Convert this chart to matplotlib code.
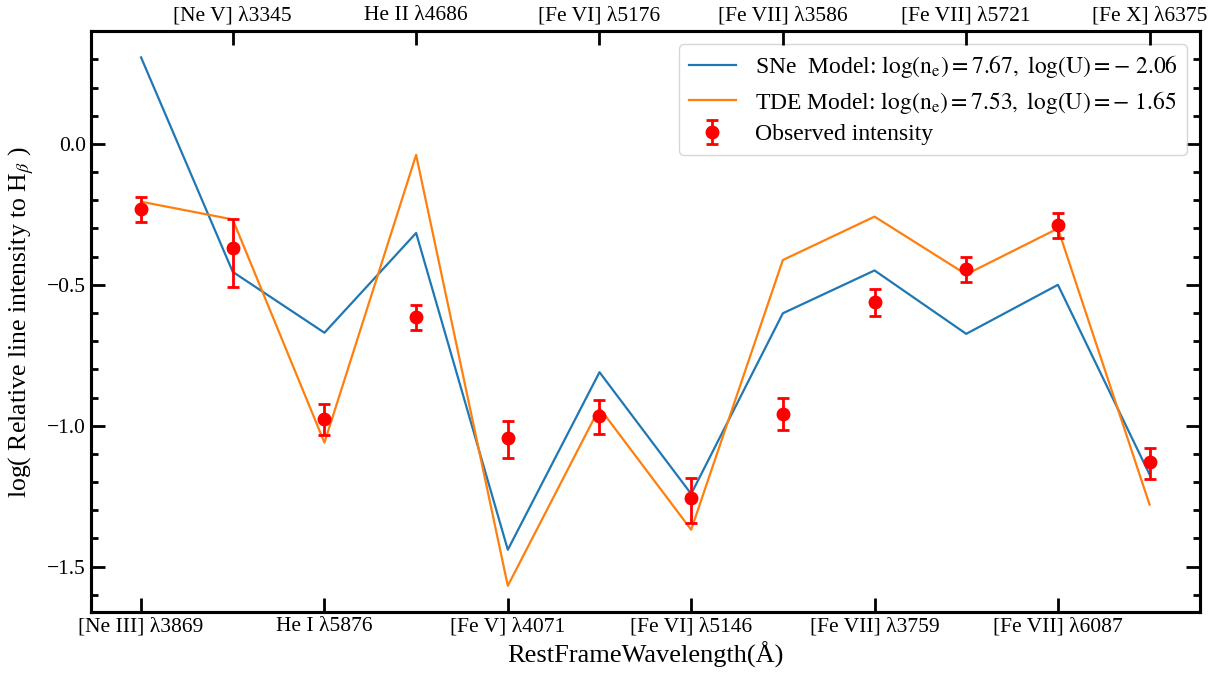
import numpy as np
import matplotlib.pyplot as plt
from matplotlib.ticker import MultipleLocator

plt.rcParams.update({
    "font.family": "serif",
    "font.serif": ["Liberation Serif", "DejaVu Serif"],
    "mathtext.fontset": "stix",
    "axes.linewidth": 2.2,
})

# emission lines, alternating between bottom and top axis
bottom_labels = ["[Ne III] λ3869", "He I λ5876", "[Fe V] λ4071",
                 "[Fe VI] λ5146", "[Fe VII] λ3759", "[Fe VII] λ6087"]
top_labels = ["[Ne V] λ3345", "He II λ4686", "[Fe VI] λ5176",
              "[Fe VII] λ3586", "[Fe VII] λ5721", "[Fe X] λ6375"]

sne_model = [0.307, -0.454, -0.670, -0.316, -1.440, -0.810,
             -1.242, -0.601, -0.449, -0.674, -0.500, -1.173]
tde_model = [-0.205, -0.268, -1.060, -0.039, -1.568, -0.937,
             -1.369, -0.412, -0.258, -0.463, -0.300, -1.280]
observed = [-0.230, -0.369, -0.977, -0.615, -1.043, -0.964,
            -1.258, -0.957, -0.560, -0.443, -0.288, -1.130]
err_low = [0.046, 0.138, 0.055, 0.045, 0.071, 0.065,
           0.087, 0.058, 0.049, 0.046, 0.045, 0.060]
err_high = [0.043, 0.104, 0.053, 0.044, 0.061, 0.055,
            0.073, 0.054, 0.044, 0.043, 0.042, 0.051]

x = np.arange(len(observed))

fig = plt.figure(figsize=(12.25, 6.81), dpi=100)
ax = fig.add_axes([0.074, 0.101, 0.9056, 0.8535])

ax.plot(x, sne_model, color="#1f77b4", lw=1.6,
        label=r"SNe  Model: $\mathrm{log(n_e) = 7.67,\ log(U) = -\ 2.06}$")
ax.plot(x, tde_model, color="#ff7f0e", lw=1.6,
        label=r"TDE Model: $\mathrm{log(n_e) = 7.53,\ log(U) = -\ 1.65}$")
ax.errorbar(x, observed, yerr=[err_low, err_high], fmt="o", color="red",
            ms=9, elinewidth=2, capsize=4, capthick=2,
            label="Observed intensity")

ax.set_xticks(x[::2])
ax.set_xticklabels(bottom_labels, fontsize=15.5)
ax.yaxis.set_major_locator(MultipleLocator(0.5))
ax.yaxis.set_minor_locator(MultipleLocator(0.1))
ax.tick_params(axis="y", which="major", direction="in", length=10, width=2,
               right=True, labelsize=15.5)
ax.tick_params(axis="y", which="minor", direction="in", length=5, width=2,
               right=True)
ax.tick_params(axis="x", which="major", direction="in", length=10, width=2)

ax.set_xlabel("RestFrameWavelength(Å)", fontsize=19, labelpad=4)
ax.set_ylabel(r"log( Relative line intensity to H$_\beta$ )", fontsize=18.5,
              labelpad=8)

# odd-indexed lines on the top axis
top = ax.twiny()
top.set_xlim(ax.get_xlim())
top.set_xticks(x[1::2])
top.set_xticklabels(top_labels, fontsize=15.5)
top.tick_params(axis="x", direction="in", length=10, width=2, pad=4)

ax.legend(loc="upper right", fontsize=17, frameon=True, fancybox=True,
          edgecolor="#cccccc", borderpad=0.4, handlelength=2.0,
          labelspacing=0.35, borderaxespad=0.55)

fig.savefig("out.png", dpi=100)
